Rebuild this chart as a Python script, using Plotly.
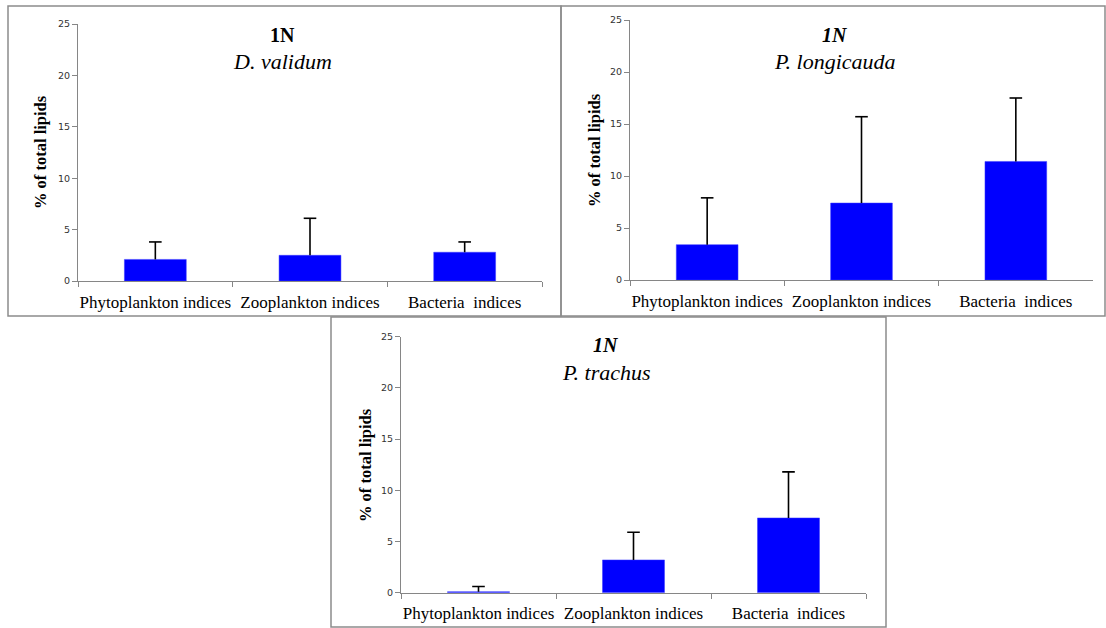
import plotly.graph_objects as go

W, H = 1106, 628

categories = ["Phytoplankton indices", "Zooplankton indices", "Bacteria\u00a0 indices"]

dv_mean = [2.1, 2.5, 2.8]
dv_err = [1.7, 3.6, 1.0]

pl_mean = [3.4, 7.4, 11.4]
pl_err = [4.5, 8.3, 6.1]

pt_mean = [0.1, 3.2, 7.3]
pt_err = [0.5, 2.7, 4.5]

titles = [("<b>1N</b>", "<i>D. validum</i>"),
          ("<b><i>1N</i></b>", "<i>P. longicauda</i>"),
          ("<b><i>1N</i></b>", "<i>P. trachus</i>")]

y_title = "<b>% of total lipids</b>"
y_ticks = [0, 5, 10, 15, 20, 25]

# panel geometry in pixels: (x0, x1, ytop(25), ybottom(0))
plots = [(78, 542, 24, 281), (630, 1093, 20, 280), (401, 866, 336.7, 592.7)]
borders = [(8, 6, 561, 316), (561, 6, 1105, 316), (331, 317, 886, 627)]
title_pos = [(282, 35, 62), (835, 35, 62), (606, 345, 372)]
ytitle_pos = [(41, 152), (594, 150), (365, 465)]

series = [(dv_mean, dv_err), (pl_mean, pl_err), (pt_mean, pt_err)]

fig = go.Figure()
serif = "Liberation Serif, Times New Roman, serif"
axis_col = "#868686"

for i, ((m, e), (x0, x1, yt, yb)) in enumerate(zip(series, plots)):
    n = "" if i == 0 else str(i + 1)
    fig.add_trace(go.Bar(
        x=categories, y=m, width=0.4,
        marker=dict(color="#0000FF", line=dict(color="#3b3bff", width=0.5)),
        xaxis="x" + n, yaxis="y" + n, showlegend=False,
    ))
    # upper-only error bars: stem from bar top to mean+err, with a cap marker
    ex, ey = [], []
    for c, mv, ev in zip(categories, m, e):
        ex += [c, c, None]
        ey += [mv, mv + ev, None]
    fig.add_trace(go.Scatter(
        x=ex, y=ey, mode="lines", line=dict(color="black", width=1.6),
        xaxis="x" + n, yaxis="y" + n, showlegend=False, hoverinfo="skip",
    ))
    fig.add_trace(go.Scatter(
        x=categories, y=[mv + ev for mv, ev in zip(m, e)], mode="markers",
        marker=dict(symbol="line-ew", size=9, line=dict(color="black", width=1.6)),
        xaxis="x" + n, yaxis="y" + n, showlegend=False, hoverinfo="skip",
    ))
    fig.layout["xaxis" + n] = dict(
        domain=[x0 / W, x1 / W], anchor="y" + n, type="category",
        range=[-0.5, 2.5], showline=True, linecolor=axis_col, linewidth=1.2,
        ticks="outside", tickson="boundaries", ticklen=5, tickcolor=axis_col,
        showgrid=False, tickfont=dict(family=serif, size=17, color="black"),
        tickangle=0, automargin=False,
        ticklabelstandoff=5, fixedrange=True,
    )
    fig.layout["yaxis" + n] = dict(
        domain=[1 - yb / H, 1 - yt / H], anchor="x" + n,
        range=[0, 25], tickvals=y_ticks, showline=True, linecolor=axis_col,
        linewidth=1.2, ticks="outside", ticklen=5, tickcolor=axis_col,
        showgrid=False, zeroline=False, automargin=False,
        tickfont=dict(family="DejaVu Sans, Verdana, sans-serif", size=9.5, color="#333333"),
        fixedrange=True,
    )

shapes = []
for (bx0, by0, bx1, by1) in borders:
    shapes.append(dict(type="rect", xref="paper", yref="paper",
                       x0=bx0 / W, x1=bx1 / W, y0=1 - by1 / H, y1=1 - by0 / H,
                       line=dict(color="#8c8c8c", width=1.5), fillcolor="rgba(0,0,0,0)"))

annotations = []
for (t1, t2), (cx, y1, y2) in zip(titles, title_pos):
    annotations.append(dict(text=t1, x=cx / W, y=1 - y1 / H, xref="paper", yref="paper",
                            xanchor="center", yanchor="middle", showarrow=False,
                            font=dict(family=serif, size=20, color="black")))
    annotations.append(dict(text=t2, x=cx / W, y=1 - y2 / H, xref="paper", yref="paper",
                            xanchor="center", yanchor="middle", showarrow=False,
                            font=dict(family=serif, size=22, color="black")))
for (cx, cy) in ytitle_pos:
    annotations.append(dict(text=y_title, x=cx / W, y=1 - cy / H, xref="paper", yref="paper",
                            xanchor="center", yanchor="middle", showarrow=False, textangle=-90,
                            font=dict(family=serif, size=16.5, color="black")))

fig.update_layout(width=W, height=H, autosize=False, margin=dict(l=0, r=0, t=0, b=0),
                  paper_bgcolor="white", plot_bgcolor="white",
                  shapes=shapes, annotations=annotations, bargap=0.6)

fig.write_html("out.html", config={"displayModeBar": False})
